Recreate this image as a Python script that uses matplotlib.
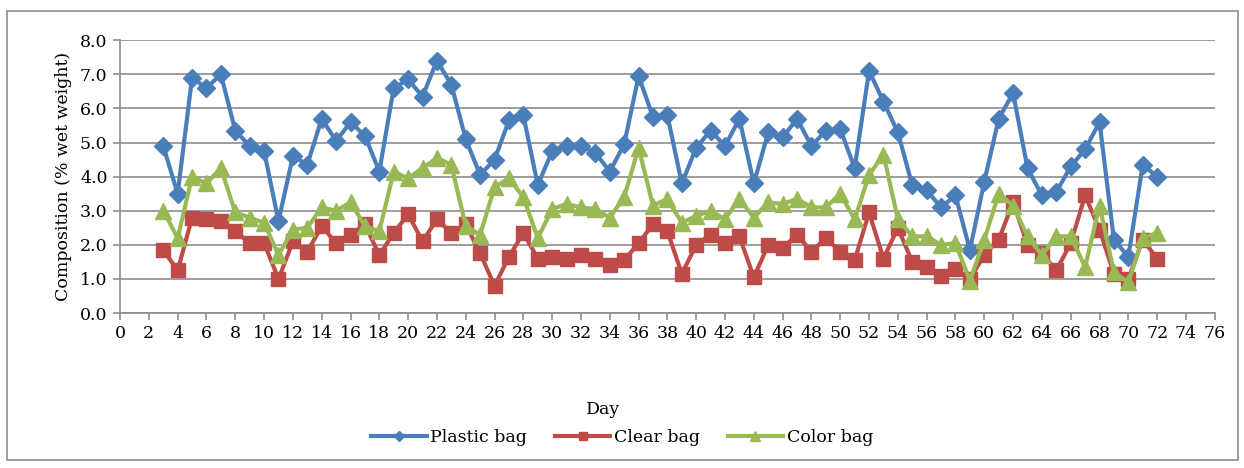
import matplotlib
matplotlib.use("Agg")
import matplotlib.pyplot as plt
from matplotlib.patches import Rectangle

days = list(range(3, 73))

plastic_bag = [4.9, 3.5, 6.9, 6.6, 7.0, 5.35, 4.9, 4.75, 2.7, 4.6,
               4.35, 5.7, 5.05, 5.6, 5.2, 4.15, 6.6, 6.85, 6.35, 7.4,
               6.7, 5.1, 4.05, 4.5, 5.65, 5.8, 3.75, 4.75, 4.9, 4.9,
               4.7, 4.15, 4.95, 6.95, 5.75, 5.8, 3.8, 4.85, 5.35, 4.9,
               5.7, 3.8, 5.3, 5.15, 5.7, 4.9, 5.35, 5.4, 4.25, 7.1,
               6.2, 5.3, 3.75, 3.6, 3.1, 3.45, 1.85, 3.85, 5.7, 6.45,
               4.25, 3.45, 3.55, 4.3, 4.8, 5.6, 2.15, 1.65, 4.35, 4.0]

clear_bag = [1.85, 1.25, 2.8, 2.75, 2.7, 2.4, 2.05, 2.05, 1.0, 2.1,
             1.8, 2.55, 2.05, 2.3, 2.6, 1.7, 2.35, 2.9, 2.1, 2.75,
             2.35, 2.6, 1.75, 0.8, 1.65, 2.35, 1.6, 1.65, 1.6, 1.7,
             1.6, 1.4, 1.55, 2.05, 2.6, 2.4, 1.15, 2.0, 2.3, 2.05,
             2.25, 1.05, 2.0, 1.9, 2.3, 1.8, 2.2, 1.8, 1.55, 2.95,
             1.6, 2.5, 1.5, 1.35, 1.1, 1.3, 1.0, 1.7, 2.15, 3.25,
             2.0, 1.75, 1.25, 2.05, 3.45, 2.45, 1.15, 1.0, 2.15, 1.6]

color_bag = [3.0, 2.2, 4.0, 3.8, 4.25, 2.95, 2.8, 2.65, 1.7, 2.45,
             2.5, 3.1, 3.0, 3.25, 2.55, 2.4, 4.15, 3.95, 4.25, 4.55,
             4.35, 2.55, 2.3, 3.7, 3.95, 3.4, 2.2, 3.05, 3.2, 3.1,
             3.05, 2.8, 3.4, 4.85, 3.15, 3.35, 2.65, 2.85, 3.0, 2.75,
             3.35, 2.8, 3.25, 3.2, 3.35, 3.1, 3.1, 3.5, 2.75, 4.05,
             4.65, 2.75, 2.25, 2.25, 2.0, 2.05, 0.95, 2.15, 3.5, 3.15,
             2.25, 1.7, 2.25, 2.25, 1.35, 3.15, 1.2, 0.9, 2.2, 2.35]

plt.rcParams['font.family'] = ['DejaVu Serif']

fig = plt.figure(figsize=(12.44, 4.68), dpi=100)
ax = fig.add_axes([0.0965, 0.331, 0.880, 0.583])

# outer chart frame
fig.patches.append(Rectangle((7 / 1244, 8 / 468), 1231 / 1244, 449 / 468,
                             transform=fig.transFigure, fill=False,
                             edgecolor='#8c8c8c', linewidth=1.2))

ax.plot(days, plastic_bag, color='#4a7ebb', linewidth=3, marker='D',
        markersize=9, label='Plastic bag', zorder=3)
ax.plot(days, clear_bag, color='#be4b48', linewidth=3, marker='s',
        markersize=10, label='Clear bag', zorder=4)
ax.plot(days, color_bag, color='#98b954', linewidth=3, marker='^',
        markersize=11, label='Color bag', zorder=5)

ax.set_xlim(0, 76)
ax.set_ylim(0, 8)
ax.set_xticks(range(0, 77, 2))
ax.set_yticks([i for i in range(0, 9)])
ax.set_yticklabels([f'{i:.1f}' for i in range(0, 9)])

ax.grid(axis='y', color='#8c8c8c', linewidth=1.2)
ax.set_axisbelow(True)
for side in ['top', 'right']:
    ax.spines[side].set_visible(False)
for side in ['left', 'bottom']:
    ax.spines[side].set_color('#8c8c8c')
    ax.spines[side].set_linewidth(1.2)
ax.tick_params(axis='both', colors='#8c8c8c', labelcolor='black',
               labelsize=12.5, length=5, width=1.2)
ax.tick_params(axis='y', pad=4)

ax.set_ylabel('Composition (% wet weight)', fontsize=12.5, labelpad=6)
fig.text(603 / 1244, 1 - 410 / 468, 'Day', fontsize=12.5,
         ha='center', va='center')

fig.legend(loc='center', bbox_to_anchor=(622 / 1244, 1 - 438 / 468), ncol=3,
           frameon=False, fontsize=12.5, markerscale=0.6, handlelength=3.2,
           columnspacing=1.6, handletextpad=0.2)

fig.savefig('out.png', dpi=100)
